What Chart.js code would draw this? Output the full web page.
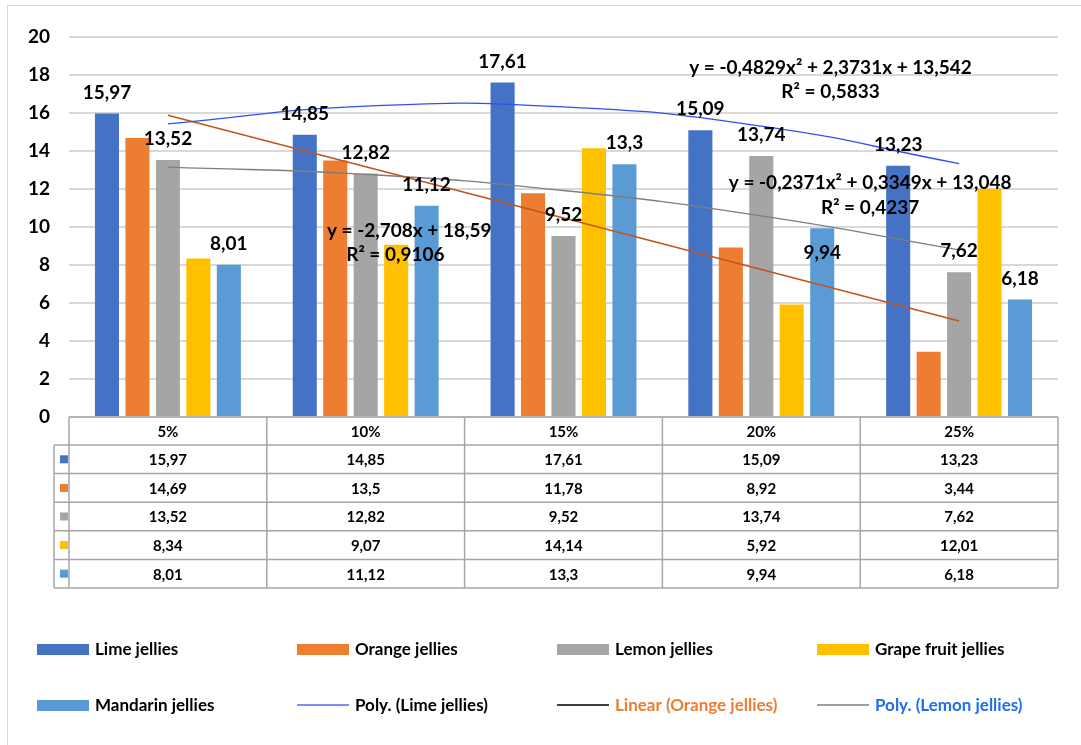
<!DOCTYPE html>
<html>
<head>
<meta charset="utf-8">
<script src="https://cdn.jsdelivr.net/npm/chart.js@4.4.1/dist/chart.umd.min.js"></script>
<style>
  html, body { margin: 0; padding: 0; background: #fff; }
  #wrap { position: relative; width: 1081px; height: 745px; overflow: hidden; }
  #frame { position: absolute; left: 7px; top: 5px; width: 1090px; height: 760px; border: 1px solid #d9d9d9; box-sizing: border-box; }
  canvas { position: absolute; left: 0; top: 0; }
</style>
</head>
<body>
<div id="wrap">
  <div id="frame"></div>
  <canvas id="chart" width="1081" height="745"></canvas>
</div>
<script>
// categories
const labels = ['5%', '10%', '15%', '20%', '25%'];

// series values
const lime = [15.97, 14.85, 17.61, 15.09, 13.23];
const orange = [14.69, 13.5, 11.78, 8.92, 3.44];
const lemon = [13.52, 12.82, 9.52, 13.74, 7.62];
const grape = [8.34, 9.07, 14.14, 5.92, 12.01];
const mandarin = [8.01, 11.12, 13.3, 9.94, 6.18];

// trend line values at each category
const limeTrend = [15.43, 16.36, 16.32, 15.31, 13.34];
const orangeTrend = [15.88, 13.17, 10.47, 7.76, 5.05];
const lemonTrend = [13.15, 12.77, 11.92, 10.59, 8.80];

// y ticks
const yTicks = [0, 2, 4, 6, 8, 10, 12, 14, 16, 18, 20];

const FONT = 'Lato, "Open Sans", sans-serif';
const fmt = v => String(v).replace('.', ',');

const barData = [
  { label: 'Lime jellies', data: lime, color: '#4472C4', showLabels: true },
  { label: 'Orange jellies', data: orange, color: '#ED7D31', showLabels: false },
  { label: 'Lemon jellies', data: lemon, color: '#A5A5A5', showLabels: true },
  { label: 'Grape fruit jellies', data: grape, color: '#FFC000', showLabels: false },
  { label: 'Mandarin jellies', data: mandarin, color: '#5B9BD5', showLabels: true }
];

const datasets = barData.map(b => ({
  type: 'bar',
  label: b.label,
  data: b.data,
  backgroundColor: b.color,
  borderWidth: 0,
  categoryPercentage: 0.77,
  barPercentage: 0.79,
  showLabels: b.showLabels,
  order: 1
}));

datasets.push(
  { type: 'line', label: 'Poly. (Lime jellies)', data: limeTrend, borderColor: '#3250F0', borderWidth: 1.3,
    pointRadius: 0, tension: 0.5, order: 0, legendColor: '#4F6BFF', textColor: '#000' },
  { type: 'line', label: 'Linear (Orange jellies)', data: orangeTrend, borderColor: '#C0561A', borderWidth: 1.6,
    pointRadius: 0, tension: 0, order: 0, legendColor: '#000', textColor: '#ED7D31' },
  { type: 'line', label: 'Poly. (Lemon jellies)', data: lemonTrend, borderColor: '#7F7F7F', borderWidth: 1.3,
    pointRadius: 0, tension: 0.5, order: 0, legendColor: '#7F7F7F', textColor: '#1F6FEB' }
);

// trend line equations, placed at (category index, value)
const equations = [
  { text: 'y = -2,708x + 18,59', x: 1.22, y: 9.79 },
  { text: 'R² = 0,9106', x: 1.15, y: 8.53 },
  { text: 'y = -0,4829x² + 2,3731x + 13,542', x: 3.35, y: 18.37 },
  { text: 'R² = 0,5833', x: 3.35, y: 17.1 },
  { text: 'y = -0,2371x² + 0,3349x + 13,048', x: 3.55, y: 12.32 },
  { text: 'R² = 0,4237', x: 3.55, y: 11.0 }
];

const overlay = {
  id: 'overlay',
  afterDatasetsDraw(chart) {
    const ctx = chart.ctx;
    const xs = chart.scales.x, ys = chart.scales.y;
    ctx.save();
    ctx.fillStyle = '#000';
    ctx.font = 'bold 19px ' + FONT;
    ctx.textAlign = 'center';
    ctx.textBaseline = 'middle';
    chart.data.datasets.forEach((ds, di) => {
      if (!ds.showLabels) return;
      chart.getDatasetMeta(di).data.forEach((bar, i) => {
        let dy = -21;
        if (di === 4 && i === 3) dy = 25;
        ctx.fillText(fmt(ds.data[i]), bar.x, bar.y + dy);
      });
    });
    equations.forEach(e => {
      ctx.fillText(e.text, xs.getPixelForValue(e.x), ys.getPixelForValue(e.y));
    });
    ctx.restore();
  },
  afterDraw(chart) {
    const ctx = chart.ctx;
    const area = chart.chartArea;
    const n = chart.data.labels.length;
    const colW = (area.right - area.left) / n;
    const top = area.bottom;
    const headH = 28;
    const rowH = 28.6;
    const keyLeft = 54;
    const bars = chart.data.datasets.filter(d => d.type === 'bar');
    const bottom = top + headH + rowH * bars.length;

    ctx.save();
    ctx.strokeStyle = '#A6A6A6';
    ctx.lineWidth = 1.5;
    ctx.beginPath();
    ctx.moveTo(area.left, top); ctx.lineTo(area.right, top);
    for (let r = 0; r <= bars.length; r++) {
      const y = top + headH + r * rowH;
      ctx.moveTo(keyLeft, y); ctx.lineTo(area.right, y);
    }
    for (let c = 0; c <= n; c++) {
      const x = area.left + c * colW;
      ctx.moveTo(x, top); ctx.lineTo(x, bottom);
    }
    ctx.moveTo(keyLeft, top + headH); ctx.lineTo(keyLeft, bottom);
    ctx.stroke();

    ctx.fillStyle = '#000';
    ctx.font = 'bold 15px ' + FONT;
    ctx.textAlign = 'center';
    ctx.textBaseline = 'middle';
    chart.data.labels.forEach((l, c) => {
      ctx.fillText(l, area.left + (c + 0.5) * colW, top + headH / 2 + 1);
    });
    bars.forEach((ds, r) => {
      const yc = top + headH + (r + 0.5) * rowH;
      ctx.fillStyle = ds.backgroundColor;
      ctx.fillRect(60, yc - 4, 8, 8);
      ctx.fillStyle = '#000';
      ds.data.forEach((v, c) => {
        ctx.fillText(fmt(v), area.left + (c + 0.5) * colW, yc + 1);
      });
    });

    // legend, 4 columns x 2 rows
    const colX = [37, 297, 557, 817];
    const rowY = [649, 705];
    ctx.textAlign = 'left';
    ctx.font = 'bold 17px ' + FONT;
    chart.data.datasets.forEach((ds, i) => {
      const x = colX[i % 4], y = rowY[Math.floor(i / 4)];
      if (ds.type === 'bar') {
        ctx.fillStyle = ds.backgroundColor;
        ctx.fillRect(x, y - 5, 52, 11);
        ctx.fillStyle = '#000';
      } else {
        ctx.strokeStyle = ds.legendColor;
        ctx.lineWidth = 1.5;
        ctx.beginPath();
        ctx.moveTo(x, y); ctx.lineTo(x + 52, y);
        ctx.stroke();
        ctx.fillStyle = ds.textColor;
      }
      ctx.fillText(ds.label, x + 58, y + 1);
    });
    ctx.restore();
  }
};

new Chart(document.getElementById('chart'), {
  type: 'bar',
  data: { labels: labels, datasets: datasets },
  options: {
    responsive: false,
    animation: false,
    devicePixelRatio: 1,
    layout: { padding: { top: 37, bottom: 328, right: 23, left: 0 } },
    plugins: { legend: { display: false }, tooltip: { enabled: false } },
    scales: {
      x: { display: false, offset: true },
      y: {
        min: 0,
        max: 20,
        afterBuildTicks: s => { s.ticks = yTicks.map(v => ({ value: v })); },
        afterFit: s => { s.width = 69; },
        border: { display: false },
        grid: { color: '#D9D9D9', lineWidth: 2, drawTicks: false },
        ticks: { color: '#000', padding: 19, font: { family: FONT, size: 19, weight: 'bold' } }
      }
    }
  },
  plugins: [overlay]
});
</script>
</body>
</html>
